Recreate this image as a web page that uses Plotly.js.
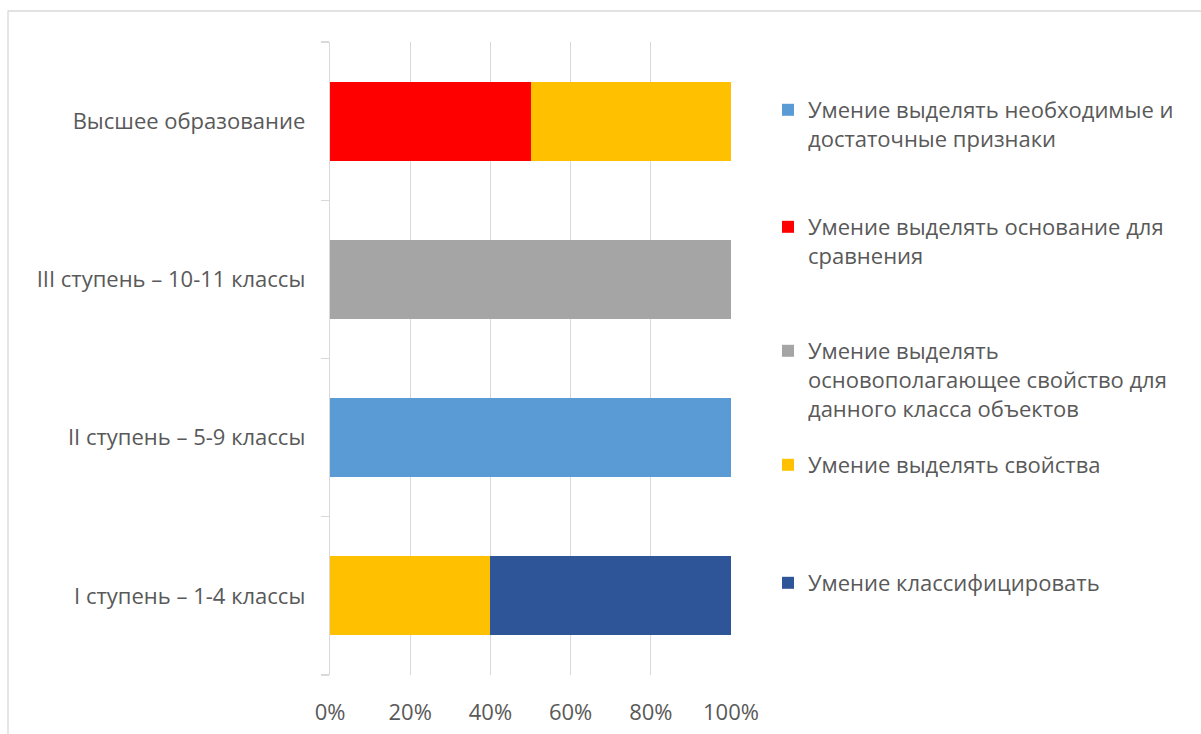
<!DOCTYPE html>
<html>
<head>
<meta charset="utf-8">
<script src="https://cdn.plot.ly/plotly-3.0.1.min.js"></script>
<style>html,body{margin:0;padding:0;background:#fff;}#chart{width:1201px;height:734px;}</style>
</head>
<body>
<div id="chart"></div>
<script>
var categories = ['I ступень – 1-4 классы', 'II ступень – 5-9 классы', 'III ступень – 10-11 классы', 'Высшее образование'];
var seriesNames = [
  'Умение выделять необходимые и<br>достаточные признаки',
  'Умение выделять основание для<br>сравнения',
  'Умение выделять<br>основополагающее свойство для<br>данного класса объектов',
  'Умение выделять свойства',
  'Умение классифицировать'
];
var valsNecessary   = [0, 100, 0, 0];
var valsBasis       = [0, 0, 0, 50];
var valsFundamental = [0, 0, 100, 0];
var valsProperties  = [40, 0, 0, 50];
var valsClassify    = [60, 0, 0, 0];
var seriesValues = [valsNecessary, valsBasis, valsFundamental, valsProperties, valsClassify];
var colors = ['#5B9BD5', '#FF0000', '#A5A5A5', '#FFC000', '#2E5597'];
var xTicks = [0, 20, 40, 60, 80, 100];

// pixel helpers for layout placement
var L = 330, R = 731, T = 42, B = 675;
function px(x) { return (x - L) / (R - L); }
function py(y) { return (B - y) / (B - T); }
var legendTops = [89, 206, 330, 444, 562];

var fontFam = '"Open Sans", "Noto Sans", sans-serif';
var txtColor = '#595959';
var fs = 22;

var traces = seriesNames.map(function (name, i) {
  return {
    type: 'bar', orientation: 'h', name: name,
    y: categories, x: seriesValues[i],
    marker: { color: colors[i] },
    width: 0.5,
    legend: i === 0 ? 'legend' : 'legend' + (i + 1),
    hoverinfo: 'x+name'
  };
});

var layout = {
  width: 1201, height: 734,
  margin: { l: L, r: 1201 - R, t: T, b: 734 - B, pad: 0 },
  paper_bgcolor: '#ffffff', plot_bgcolor: '#ffffff',
  barmode: 'stack',
  font: { family: fontFam, size: fs, color: txtColor },
  xaxis: {
    range: [0, 100], tickvals: xTicks, ticktext: xTicks.map(function (v) { return v + '%'; }),
    showgrid: true, gridcolor: '#d9d9d9', gridwidth: 1.3,
    zeroline: false, showline: false, ticks: '',
    ticklabelstandoff: 22,
    tickfont: { family: fontFam, size: fs, color: txtColor },
    fixedrange: true
  },
  yaxis: {
    type: 'category', categoryorder: 'array', categoryarray: categories,
    range: [-0.5, 3.5],
    showgrid: false, zeroline: false,
    showline: true, linecolor: '#d9d9d9', linewidth: 1.3,
    ticks: 'outside', tickson: 'boundaries', ticklen: 8, tickcolor: '#d9d9d9', tickwidth: 1.3,
    ticklabelstandoff: 19,
    tickfont: { family: fontFam, size: fs, color: txtColor },
    fixedrange: true
  },
  shapes: [{
    type: 'rect', xref: 'paper', yref: 'paper',
    x0: px(8), x1: px(1215), y0: py(750), y1: py(11),
    line: { color: '#d9d9d9', width: 1.3 }, fillcolor: 'rgba(0,0,0,0)', layer: 'below'
  }],
  showlegend: true
};
legendTops.forEach(function (top, i) {
  var key = i === 0 ? 'legend' : 'legend' + (i + 1);
  layout[key] = {
    x: px(768), y: py(top), xanchor: 'left', yanchor: 'top',
    bgcolor: 'rgba(0,0,0,0)', borderwidth: 0, valign: 'top',
    font: { family: fontFam, size: fs, color: txtColor },
    itemclick: false, itemdoubleclick: false
  };
});

Plotly.newPlot('chart', traces, layout, { displayModeBar: false, staticPlot: true });
</script>
</body>
</html>
